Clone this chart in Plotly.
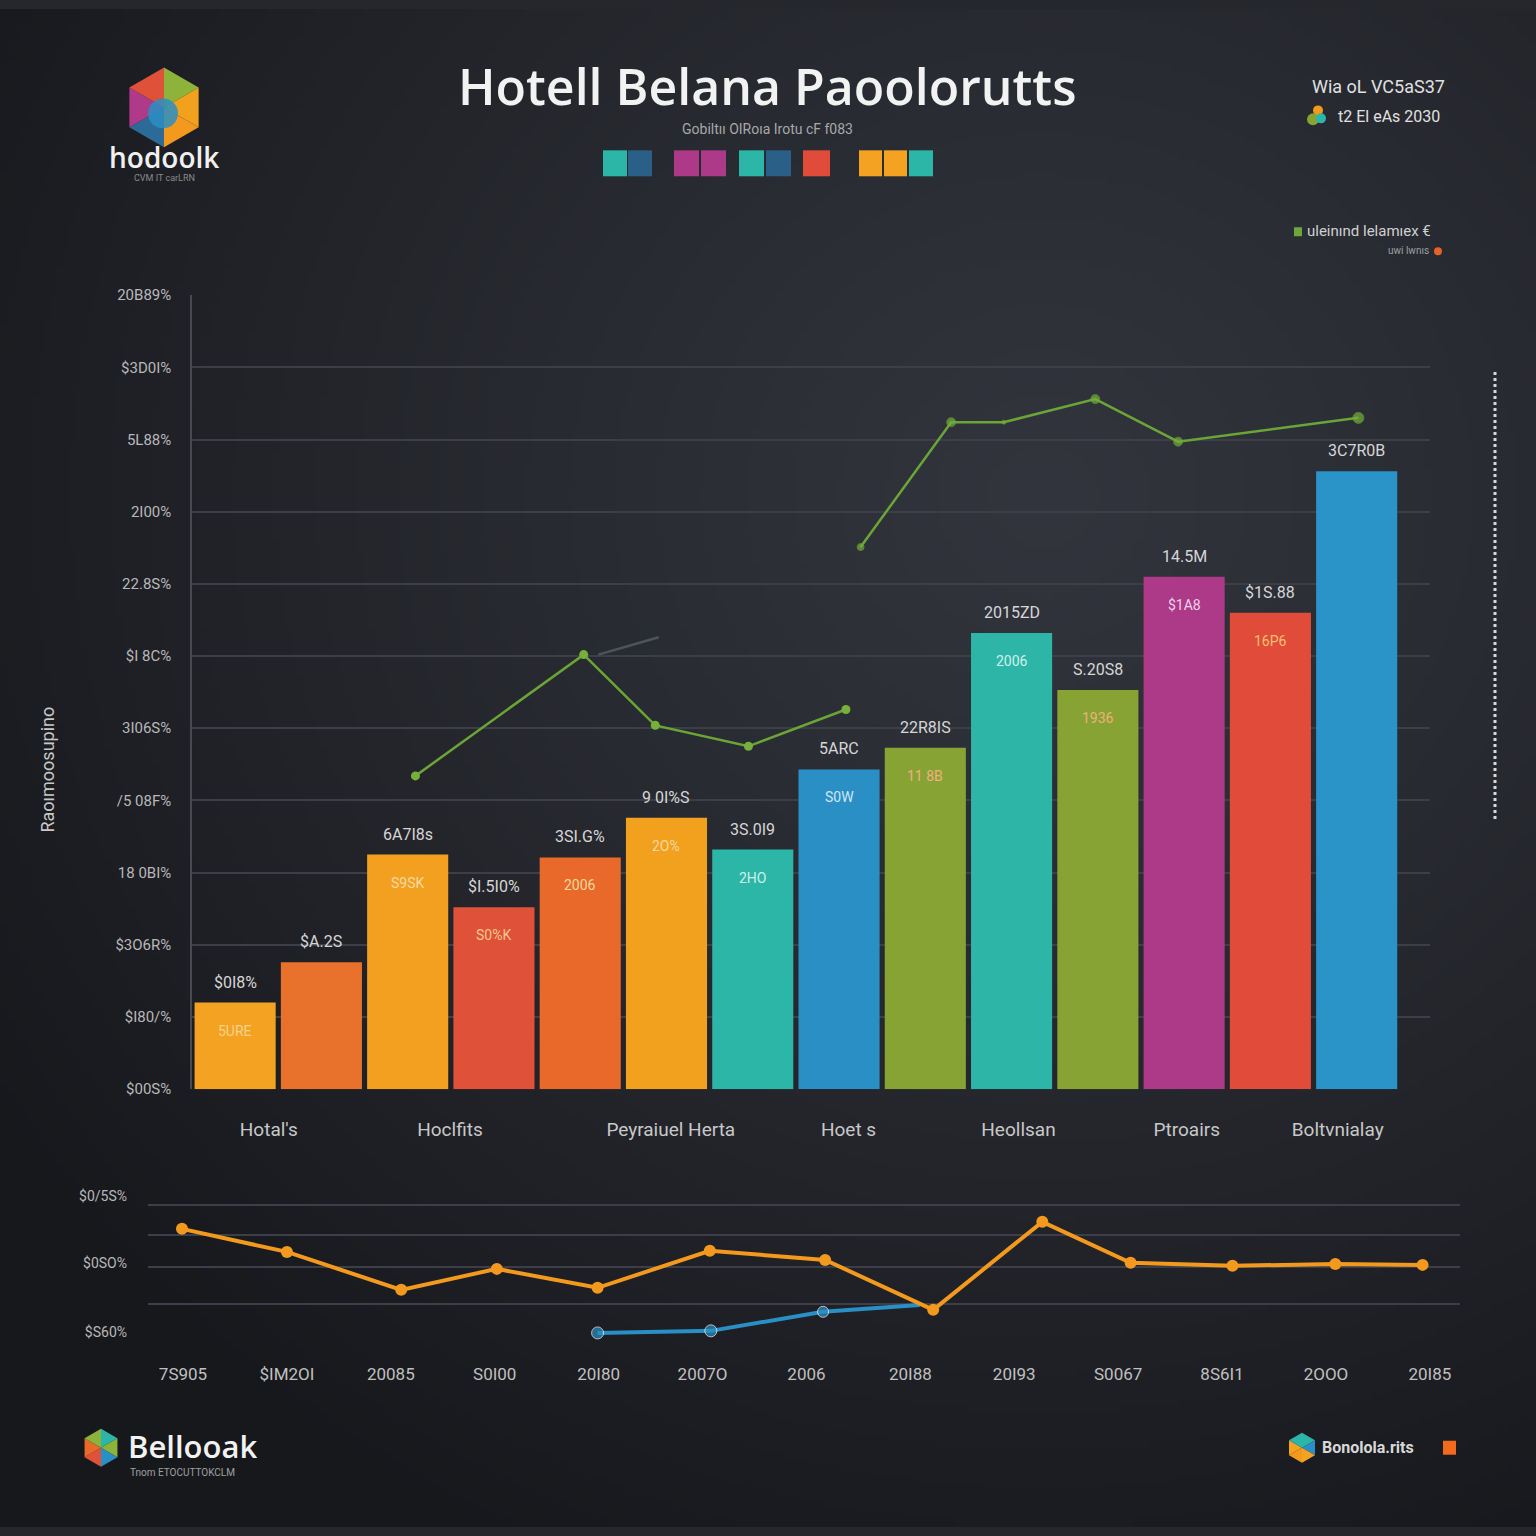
import base64
import struct
import zlib

import numpy as np
import plotly.graph_objects as go

W = H = 1536

# ---------------- data ----------------
bar_values = [12.0, 17.6, 32.5, 25.2, 32.1, 37.6, 33.2, 44.3, 47.3, 63.2, 55.3, 71.0, 66.0, 85.6]
bar_colors = ["#f3a221", "#e8712b", "#f3a020", "#e0513a", "#e8692a", "#f2a11f", "#2bb6a8",
              "#2a8fc4", "#86a333", "#2db6a8", "#87a334", "#ad3a88", "#e14b3a", "#2a93c8"]
bar_top_labels = ["$0I8%", "$A.2S", "6A7I8s", "$I.5I0%", "3SI.G%", "9 0I%S", "3S.0I9",
                  "5ARC", "22R8IS", "2015ZD", "S.20S8", "14.5M", "$1S.88", "3C7R0B"]
bar_inner_labels = ["5URE", "", "S9SK", "S0%K", "2006", "2O%", "2HO", "S0W", "11 8B",
                    "2006", "1936", "$1A8", "16P6", ""]
bar_inner_colors = ["#f7d28a", "#f7d28a", "#fbd9a0", "#f8c98a", "#f8d89a", "#fbd6a0", "#d0f0ea",
                    "#d0e8f8", "#f0b080", "#d0f0ea", "#f0b07a", "#f2d0e8", "#f8c070", "#ffffff"]

cat_tick_pos = [0.39, 2.49, 5.05, 7.11, 9.08, 11.03, 12.78]
cat_tick_text = ["Hotal's", "Hoclfits", "Peyraiuel Herta", "Hoet s", "Heollsan", "Ptroairs", "Boltvnialay"]

left_tick_vals = [0, 10, 20, 30, 40, 50, 60, 70, 80, 90, 100, 110]
left_tick_text = ["$00S%", "$I80/%", "$3O6R%", "18 0BI%", "/5 08F%", "3I06S%", "$I 8C%",
                  "22.8S%", "2I00%", "5L88%", "$3D0I%", "20B89%"]

right_tick_vals = [0.6, 10.0, 19.2, 28.2, 37.2, 46.8, 55.5, 64.2, 73.6, 83.2, 92.4, 102.5]
right_tick_text = ["Of", "5ASI%", "$.89I%", "$t/3M%", "6L32%", "34G0%", "4L9I%", "58.0%",
                   "3318%", "$8.7I%", "$78%8", "$1L89%"]

green_x_a = [2.09, 4.04, 4.87, 5.95, 7.08]
green_y_a = [43.4, 60.2, 50.4, 47.5, 52.6]
green_x_b = [7.25, 8.30, 8.91, 9.97, 10.93, 13.02]
green_y_b = [75.1, 92.4, 92.4, 95.6, 89.7, 93.0]
green_size_b = [7, 9, 4, 9, 9, 11]
gray_x = [4.21, 4.91]
gray_y = [60.2, 62.6]

year_labels = ["7S905", "$IM2OI", "20085", "S0I00", "20I80", "2007O", "2006", "20I88",
               "20I93", "S0067", "8S6I1", "2OOO", "20I85"]
orange_x = [-0.01, 1.0, 2.10, 3.02, 3.99, 5.07, 6.18, 7.22, 8.27, 9.12, 10.10, 11.09, 11.93]
orange_y = [82.6, 65.9, 38.4, 53.6, 39.9, 66.7, 60.1, 23.9, 87.7, 58.0, 55.8, 57.2, 56.5]
blue_x = [3.99, 5.08, 6.16, 7.09]
blue_y = [7.2, 8.7, 22.5, 27.5]
blue_size = [12, 12, 11, 0]

bottom_grid_vals = [0, 28.3, 55.1, 78.3, 100]
bottom_label_vals = [8, 58, 106.5]
bottom_label_text = ["$S60%", "$0SO%", "$0/5S%"]


# ---------------- background gradient ----------------
def make_png(arr):
    h, w, _ = arr.shape
    raw = b"".join(b"\x00" + arr[y].tobytes() for y in range(h))

    def chunk(tag, data):
        c = tag + data
        return struct.pack(">I", len(data)) + c + struct.pack(">I", zlib.crc32(c) & 0xFFFFFFFF)

    return (b"\x89PNG\r\n\x1a\n" + chunk(b"IHDR", struct.pack(">IIBBBBB", w, h, 8, 2, 0, 0, 0))
            + chunk(b"IDAT", zlib.compress(raw, 9)) + chunk(b"IEND", b""))


n = 256
yy, xx = np.mgrid[0:n, 0:n] / (n - 1)
d = np.sqrt((xx - 0.68) ** 2 + ((yy - 0.32) * 1.05) ** 2)
t = np.clip(d / 0.82, 0, 1) ** 1.1
light = np.array([50, 53, 61])
dark = np.array([23, 24, 28])
img = (light[None, None, :] * (1 - t[..., None]) + dark[None, None, :] * t[..., None]).astype(np.uint8)
bg_uri = "data:image/png;base64," + base64.b64encode(make_png(img)).decode()


def px(x):
    return x / W


def py(y):
    # vertical position as a paper fraction for a target pixel row in the photographed page
    return 1 - ((y - 8.5) / 0.9895) / H


# ---------------- figure ----------------
fig = go.Figure()

fig.add_trace(go.Bar(
    x=list(range(len(bar_values))), y=bar_values, width=0.94,
    marker=dict(color=bar_colors, line=dict(width=0)),
    xaxis="x", yaxis="y", showlegend=False, hoverinfo="skip",
))

fig.add_trace(go.Scatter(x=gray_x, y=gray_y, mode="lines", line=dict(color="#4f535c", width=2.5),
                         xaxis="x", yaxis="y", showlegend=False, hoverinfo="skip"))
fig.add_trace(go.Scatter(x=green_x_a, y=green_y_a, mode="lines+markers",
                         line=dict(color="#6aa536", width=2.5),
                         marker=dict(color="#76b03a", size=9),
                         xaxis="x", yaxis="y", showlegend=False, hoverinfo="skip"))
fig.add_trace(go.Scatter(x=green_x_b, y=green_y_b, mode="lines+markers",
                         line=dict(color="#6aa536", width=2.5),
                         marker=dict(color="#76b03a", size=green_size_b),
                         xaxis="x", yaxis="y", showlegend=False, hoverinfo="skip"))

fig.add_trace(go.Scatter(x=blue_x, y=blue_y, mode="lines+markers",
                         line=dict(color="#2a8fc4", width=4),
                         marker=dict(color="#2a8fc4", size=blue_size),
                         xaxis="x2", yaxis="y3", showlegend=False, hoverinfo="skip"))
fig.add_trace(go.Scatter(x=orange_x, y=orange_y, mode="lines+markers",
                         line=dict(color="#f39a1e", width=4),
                         marker=dict(color="#f39a1e", size=12),
                         xaxis="x2", yaxis="y3", showlegend=False, hoverinfo="skip"))

annotations = []
for i, v in enumerate(bar_values):
    annotations.append(dict(x=i, y=v, xref="x", yref="y", text=bar_top_labels[i], showarrow=False,
                            yanchor="bottom", yshift=9,
                            font=dict(family="Roboto", size=16, color="#d6d6d6")))
    if bar_inner_labels[i]:
        annotations.append(dict(x=i, y=v, xref="x", yref="y", text=bar_inner_labels[i], showarrow=False,
                                yanchor="top", yshift=-18,
                                font=dict(family="Roboto", size=14, color=bar_inner_colors[i])))


def note(x, y, text, size, color, family="Roboto", anchor="center", angle=0, weight="normal"):
    annotations.append(dict(x=px(x), y=py(y), xref="paper", yref="paper", text=text,
                            showarrow=False, xanchor=anchor, yanchor="middle", textangle=angle,
                            font=dict(family=family, size=size, color=color, weight=weight)))


note(767, 86, "Hotell Belana Paoolorutts", 50, "#f2f2f2", family="Open Sans", weight=600)
note(767, 129, "Gobiltıı OIRoıa Irotu cF f083", 14, "#a8a8a8")
note(164, 157, "hodoolk", 28, "#f0f0f0", family="Open Sans", weight=600)
note(164, 178, "CVM IT carLRN", 9, "#8a8a8a")
note(1310, 86, "Wia oL VC5aS37", 18, "#e0e0e0", anchor="left")
note(1336, 116, "t2 El eAs 2030", 16, "#e0e0e0", anchor="left")
note(1305, 231, "uleinınd lelamıex €", 15, "#d0d0d0", anchor="left")
note(1431, 250, "uwi lwnıs", 10, "#a0a0a0", anchor="right")
note(48, 770, "Raoımoosupino", 18, "#c8c8c8", angle=-90)
note(126, 1447, "Bellooak", 31, "#f2f2f2", family="Open Sans", anchor="left", weight=600)
note(128, 1474, "Tnom ETOCUTTOKCLM", 10, "#a0a0a0", anchor="left")
note(1320, 1449, "<b>Bonolola.rits</b>", 16, "#d8d8d8", anchor="left")

shapes = []


def rect(x0, y0, x1, y1, color):
    shapes.append(dict(type="rect", xref="paper", yref="paper", x0=px(x0), x1=px(x1),
                       y0=py(y1), y1=py(y0), fillcolor=color, line=dict(width=0), layer="above"))


# color swatches under the subtitle
for x0, x1, c in [(603, 627, "#2bb6a8"), (628, 652, "#2a5f88"), (674, 699, "#ad3a88"),
                  (701, 726, "#ad3a88"), (739, 764, "#2bb6a8"), (766, 791, "#2a5f88"),
                  (803, 830, "#e14b3a"), (859, 882, "#f3a221"), (884, 907, "#f3a221"),
                  (909, 933, "#2bb6a8")]:
    rect(x0, 150, x1, 176, c)

rect(1294, 227, 1302, 236, "#6ea63a")
rect(1443, 1442, 1456, 1456, "#f36a1e")
shapes.append(dict(type="circle", xref="paper", yref="paper", x0=px(1434), x1=px(1442),
                   y0=py(255), y1=py(247), fillcolor="#e8602a", line=dict(width=0)))


def hexagon(cx, cy, r, colors):
    pts = []
    for k in range(6):
        a = np.deg2rad(90 - 60 * k)
        pts.append((cx + r * np.cos(a), cy - r * np.sin(a)))
    for k in range(6):
        p1, p2 = pts[k], pts[(k + 1) % 6]
        path = "M {:.5f},{:.5f} L {:.5f},{:.5f} L {:.5f},{:.5f} Z".format(
            px(cx), py(cy), px(p1[0]), py(p1[1]), px(p2[0]), py(p2[1]))
        shapes.append(dict(type="path", xref="paper", yref="paper", path=path,
                           fillcolor=colors[k], line=dict(width=0), layer="above"))


hexagon(164, 107, 40, ["#8db33a", "#f2a11f", "#f39a1e", "#2c6a9a", "#b03a8a", "#e0513a"])
shapes.append(dict(type="circle", xref="paper", yref="paper", x0=px(148), x1=px(178),
                   y0=py(128), y1=py(98), fillcolor="#2a8fc4", line=dict(width=0), opacity=0.85))
hexagon(101, 1449, 19, ["#2bb6a8", "#8db33a", "#2a8fc4", "#e0513a", "#e8692a", "#8db33a"])
hexagon(1302, 1449, 15, ["#2bb6a8", "#2a8fc4", "#f3a221", "#f39a1e", "#f3a221", "#2bb6a8"])
for cx, cy, r, c in [(1318, 110, 5, "#f39a1e"), (1313, 119, 6, "#86a333"), (1321, 118, 5, "#2bb6a8")]:
    shapes.append(dict(type="circle", xref="paper", yref="paper", x0=px(cx - r), x1=px(cx + r),
                       y0=py(cy + r), y1=py(cy - r), fillcolor=c, line=dict(width=0)))

# dotted vertical decoration on the right
shapes.append(dict(type="line", xref="paper", yref="paper", x0=px(1495), x1=px(1495),
                   y0=py(372), y1=py(822), line=dict(color="#d8d8d8", width=3, dash="dot")))

grid_col = "#3c3f47"

fig.update_layout(
    width=W, height=H,
    margin=dict(l=0, r=0, t=0, b=0),
    paper_bgcolor="#25272d",
    plot_bgcolor="rgba(0,0,0,0)",
    images=[dict(source=bg_uri, xref="paper", yref="paper", x=0, y=1, sizex=1, sizey=1,
                 sizing="stretch", layer="below")],
    xaxis=dict(domain=[px(192), px(1430)], range=[-0.5, 13.85], anchor="y",
               tickvals=cat_tick_pos, ticktext=cat_tick_text, showgrid=False, zeroline=False,
               showline=False, ticks="", ticklabelstandoff=27,
               tickfont=dict(family="Roboto", size=19, color="#c8c8c8")),
    yaxis=dict(domain=[py(1090), py(295)], range=[0, 110], anchor="x",
               tickvals=left_tick_vals, ticktext=left_tick_text, showgrid=True,
               gridcolor=grid_col, gridwidth=1.5, zeroline=False, showline=True,
               linecolor="#474a52", linewidth=1.5, ticks="", ticklabelstandoff=16,
               tickfont=dict(family="Roboto", size=15, color="#b8b8b8")),
    yaxis2=dict(overlaying="y", side="right", anchor="x", range=[0, 110],
                tickvals=right_tick_vals, ticktext=right_tick_text, showgrid=False,
                zeroline=False, showline=False, ticks="", ticklabelstandoff=6,
                tickfont=dict(family="Roboto", size=15, color="#b0b0b0")),
    xaxis2=dict(domain=[px(148), px(1460)], range=[-0.337, 12.29], anchor="y3",
                tickvals=list(range(len(year_labels))), ticktext=year_labels,
                showgrid=False, zeroline=False, showline=False, ticks="", ticklabelstandoff=19,
                tickfont=dict(family="Roboto", size=17, color="#c0c0c0")),
    yaxis3=dict(domain=[py(1344), py(1192)], range=[0, 110], anchor="x2",
                tickvals=bottom_label_vals, ticktext=bottom_label_text, showgrid=False,
                zeroline=False, showline=False, ticks="", ticklabelstandoff=20,
                tickfont=dict(family="Roboto", size=14, color="#b8b8b8"),
                minor=dict(tickvals=bottom_grid_vals, showgrid=True, gridcolor=grid_col,
                           gridwidth=1.5, ticks="")),
    annotations=annotations,
    shapes=shapes,
)

fig.write_html(
    "out.html",
    config={"displayModeBar": False},
    post_script="document.body.style.margin='0';",
)
